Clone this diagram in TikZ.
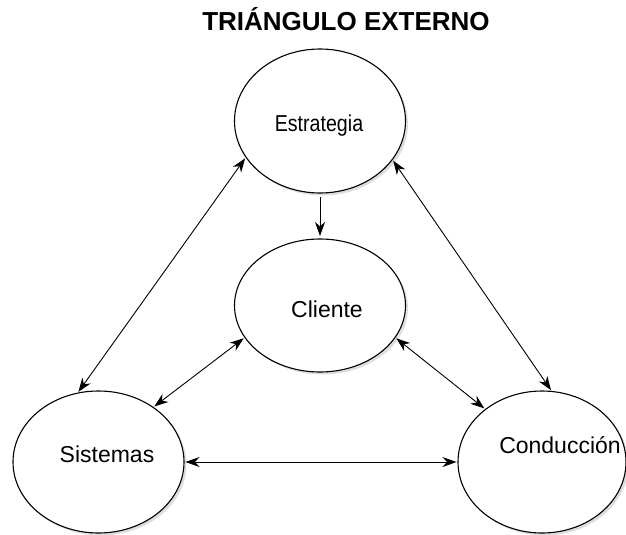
\documentclass[tikz,border=0pt]{standalone}
\usepackage{fontspec}
\usepackage{graphicx}
\setmainfont{Liberation Sans}
\usetikzlibrary{shapes.geometric,arrows.meta,shadows}
\begin{document}
\begin{tikzpicture}[x=1pt,y=-1pt,
  blob/.style={ellipse, draw=black, line width=1.1pt, fill=white, inner sep=0pt, outer sep=0pt,
    minimum width=171pt, drop shadow={shadow xshift=2.5pt, shadow yshift=-2.5pt, fill=black, opacity=0.13}},
  lbl/.style={anchor=base, inner sep=0pt, font=\fontsize{23}{27}\selectfont},
  tip/.tip={Stealth[length=14pt,width=10pt,inset=4.5pt]},
  link/.style={line width=0.9pt, shorten <=1.5pt, shorten >=1.5pt},
  both/.style={link, tip-tip},
  one/.style={link, -tip}]
\useasboundingbox (0,0) rectangle (626,535);
\fill[white] (0,0) rectangle (626,535);

\node[anchor=base, inner sep=0pt, font=\fontsize{26}{30}\selectfont\bfseries] (title) at (346,31) {TRIÁNGULO EXTERNO};

\node[blob, minimum height=144pt] (est) at (320,121) {};
\node[blob, minimum height=133pt] (cli) at (320,305.5) {};
\node[blob, minimum height=142pt] (sis) at (98.5,462) {};
\node[blob, minimum height=142pt, minimum width=168pt] (con) at (542,462) {};

\node[lbl] (estt) at (319,131.5) {\scalebox{0.853}[1]{Estrategia}};
\node[lbl] (clit) at (327,317) {Cliente};
\node[lbl] (sist) at (107,462) {Sistemas};
\node[lbl] (cont) at (560,453) {Conducción};

\draw[one, shorten <=4pt, shorten >=3pt] (est.south) -- (cli.north);
\draw[both] (est.206.7) -- (sis.107.8);
\draw[both] (est.332.4) -- (con.82.3);
\draw[both] (cli.203.9) -- (sis.45.2);
\draw[both] (cli.337.6) -- (con.137);
\draw[both] (sis.east) -- (con.west);
\end{tikzpicture}
\end{document}
